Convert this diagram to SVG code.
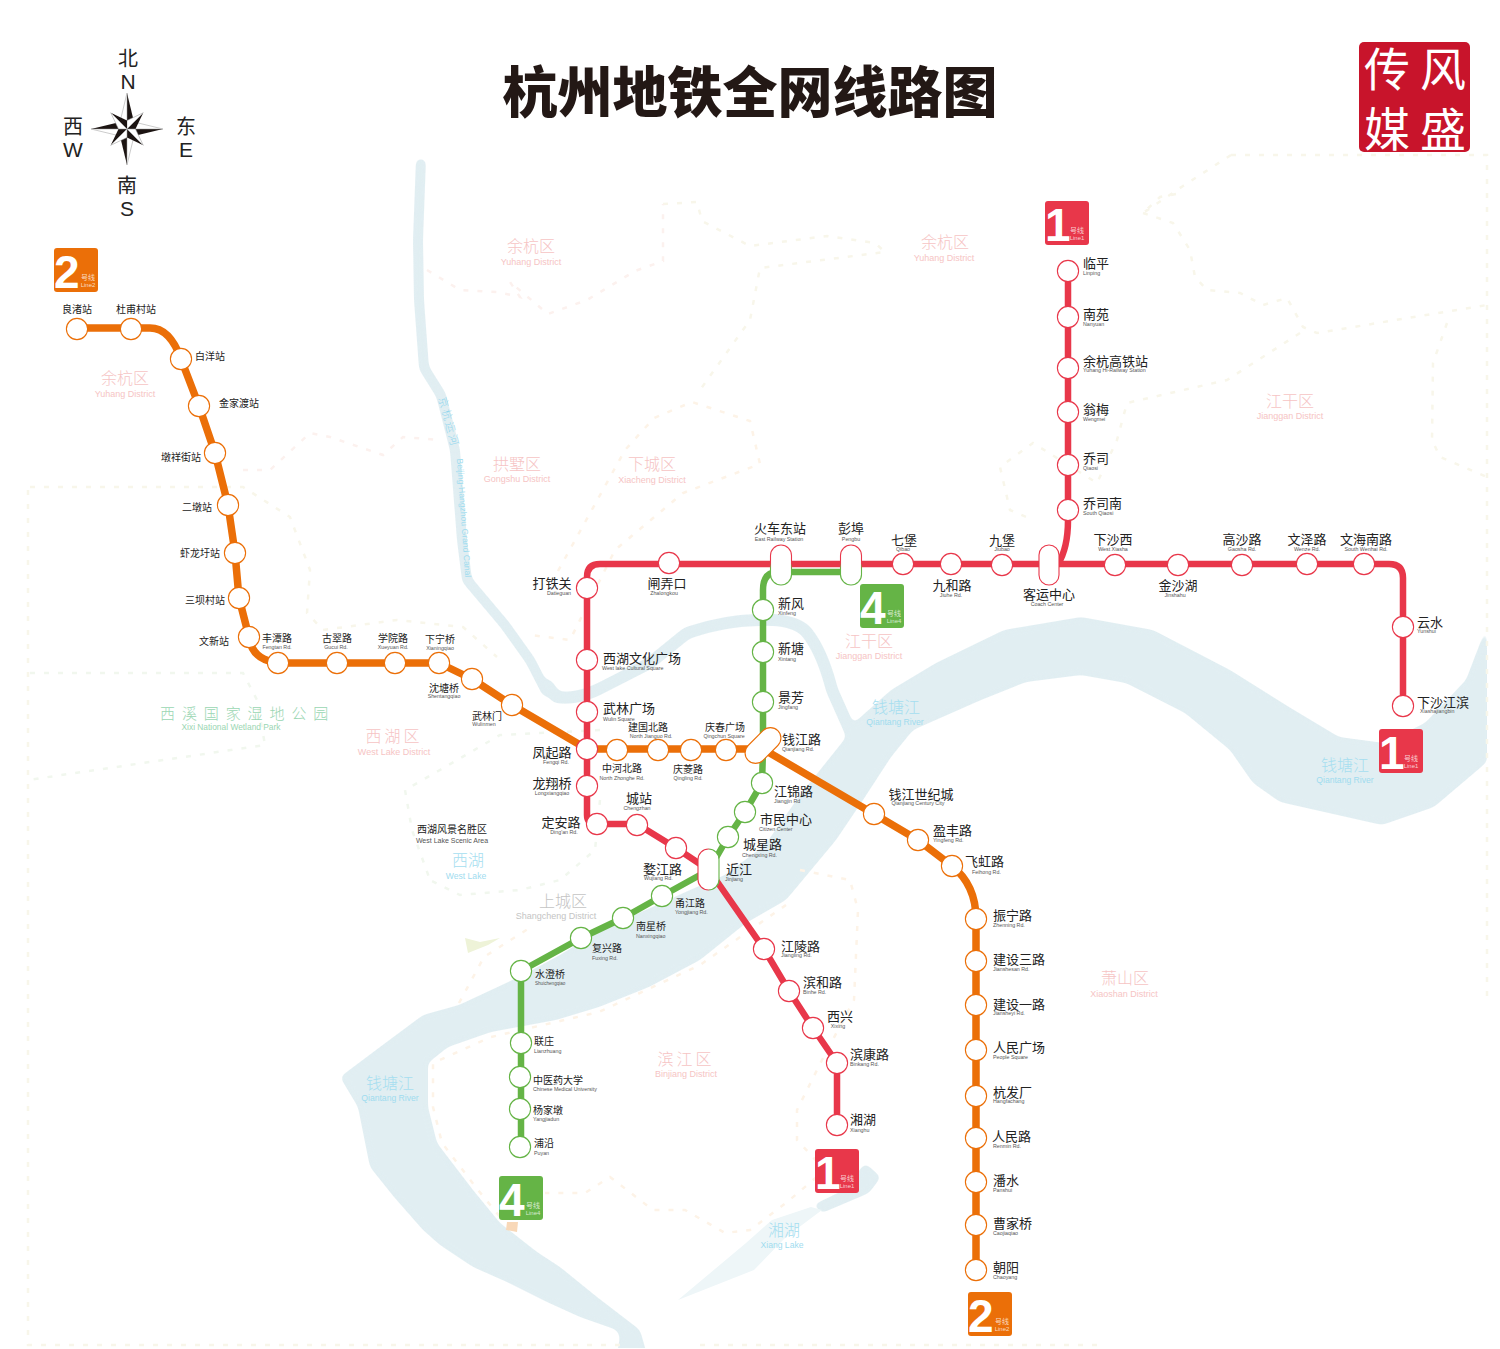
<svg xmlns="http://www.w3.org/2000/svg" width="1500" height="1349" viewBox="0 0 1500 1349">
<style>
text{font-family:"Noto Sans CJK SC","Liberation Sans",sans-serif}
.st circle{fill:#fff;stroke-width:1.1}
.r circle{stroke:#e8374a}.o circle{stroke:#eb6f08}.g circle{stroke:#65b446}
.cn{font-size:13px;fill:#222}
.cs{font-size:10px;fill:#222}
.en{font-family:"Liberation Sans",sans-serif;font-size:5.3px;fill:#555}
.m{text-anchor:middle}
.dn{font-size:16px;font-weight:300;fill:#f6c4c4;text-anchor:middle}
.de{font-family:"Liberation Sans",sans-serif;font-size:9px;fill:#f6c4c4;text-anchor:middle}
.wn{font-size:16px;font-weight:300;fill:#a6def0;text-anchor:middle}
.we{font-family:"Liberation Sans",sans-serif;font-size:8.6px;fill:#9fdcef;text-anchor:middle}
.ln{fill:none;stroke-width:6.5;stroke-linejoin:round}
.b1{fill:none;stroke-width:2.5;stroke-dasharray:5 9}
.by{stroke:#f8f6ea}.bp{stroke:#fcf1ee}.bg{stroke:#f1f7ee}.bo{stroke:#fdf3e7}
.cap{fill:#fff;stroke-width:1.1}
.num{font-family:"Liberation Sans",sans-serif;font-weight:700;font-size:46px;fill:#fff}
.bz{font-size:7px;fill:#fff;fill-opacity:.75;text-anchor:middle}
.bl{font-family:"Liberation Sans",sans-serif;font-size:6px;fill:#fff;fill-opacity:.75;text-anchor:middle}
.cp{font-size:20px;fill:#222;text-anchor:middle}
.cl{font-family:"Liberation Sans",sans-serif;font-size:21px;fill:#222;text-anchor:middle}
.seal{font-size:46px;font-weight:400;fill:#fff;text-anchor:middle}
</style>
<defs>
<linearGradient id="gv" x1="0" y1="0" x2="0" y2="1"><stop offset=".45" stop-color="#e8374a"/><stop offset=".6" stop-color="#65b446"/></linearGradient>
<linearGradient id="gh" x1="0" y1="0" x2="1" y2="0"><stop offset=".45" stop-color="#e8374a"/><stop offset=".6" stop-color="#65b446"/></linearGradient>
<filter id="soft" filterUnits="userSpaceOnUse" x="0" y="0" width="1500" height="1380" color-interpolation-filters="sRGB">
<feGaussianBlur stdDeviation="3"/>
<feComponentTransfer><feFuncA type="linear" slope="8" intercept="-3.5"/></feComponentTransfer>
</filter>
<g id="ptL"><path d="M0,0L0,-36L7,-7Z" fill="#1c1412"/><path d="M0,0L0,-36L-7,-7Z" fill="#fff" stroke="#999" stroke-width=".5"/></g>
<g id="ptS"><path d="M0,0L0,-23L6,-6Z" fill="#1c1412"/><path d="M0,0L0,-23L-6,-6Z" fill="#fff" stroke="#999" stroke-width=".5"/></g>
</defs>
<rect width="1500" height="1349" fill="#fff"/>
<g id="map">
<g id="rivers" filter="url(#soft)">
<path fill="none" stroke="#e1eef2" stroke-width="10" d="M421,159L418,240L419,300L424,368L441,395L455,450L462,540L467,580L505,625L530,660L548,695"/>
<path fill="none" stroke="#e1eef2" stroke-width="12" stroke-linejoin="round" d="M545,682L556,697Q575,700 597,690L650,663L687,633Q725,620 760,620Q790,618 805,630Q822,650 832,690L852,735"/>
<path fill="#e1eef2" d="M854,723L891,690L936,663L1004,630L1081,617L1153,630L1230,670L1289,707L1339,737L1384,743L1425,723L1466,680L1487,625V762L1434,807L1382,825L1280,802L1253,783L1230,750L1185,713L1126,683L1081,675L1026,682L981,700L913,730L891,757L863,800L836,840L786,900L746,923L700,960L649,987L599,1007L556,1020L491,1032L448,1047L428,1063L428,1107L437,1143L473,1190L500,1223L537,1252L560,1267L597,1297L640,1330L650,1365H615L620,1337L617,1330L580,1317L547,1302L507,1282L473,1267L440,1245L423,1230L394,1197L370,1167L358,1107L340,1077L376,1050L423,1015L459,1005L523,975L560,955L600,930L657,905L690,890L725,875L765,845L800,795L848,735Z"/>
<path fill="#e1eef2" d="M813,1205L844,1190L865,1163L881,1177L869,1193L822,1213Z"/>
</g>
<rect x="0" y="1348" width="1500" height="1" fill="#fff"/>
<path fill="#eef6f8" d="M822,1210L786,1237L754,1270L678,1300L746,1243L772,1220L811,1207Z"/>
<path fill="#eef3d8" d="M465,938L480,942L500,938L488,945L468,953Z"/>
<path fill="#f8d8b8" d="M507,1222L518,1222L517,1232L506,1230Z"/>
<g class="b1">
<path class="by b1" d="M1231,155H1487V1000M1231,155L1183,186L1143,213L1160,197L1182,193M1143,213L1173,223L1190,250L1195,277L1207,290L1240,293L1263,305L1287,298L1303,327L1317,333L1487,305M1300,333L1227,380L1127,403L1117,440L1097,483L1033,443L1000,467L1010,510L1033,520M1447,323L1433,363L1432,440L1440,457L1487,477"/>
<path class="by b1" d="M663,204L697,202L702,221L750,246L827,236L875,243L885,252L760,268L750,320L700,390"/>
<path class="bp b1" d="M427,270L460,290L497,292L520,297L510,282L548,314L587,300L635,271L663,261L663,204"/>
<path class="bp b1" d="M243,470L270,470L310,433L330,437L383,455L403,437L440,440"/>
<path class="by b1" d="M30,487H243L290,517L310,570L307,613L323,630L397,620L463,627L497,657M28,490V1345H620M700,1345H1100"/>
<path class="bg b1" d="M30,673H243L257,700L265,745L28,780"/>
<path class="bo b1" d="M558,571L625,450L654,418L692,402L750,421L760,464L683,493L615,550L570,640L530,635"/>
<path class="bo b1" d="M459,1003L484,957L531,927M800,870L850,880L858,910L854,1000L822,1060L797,1110L797,1140L825,1170L786,1203L750,1230L725,1233L685,1210L653,1210L610,1177L585,1193L545,1193"/>
<path class="bo b1" d="M786,905L700,965L599,1012L491,1037L433,1063L433,1107L442,1143L478,1190L505,1223"/>
<path class="bg b1" d="M600,730L500,735L440,770L405,790L412,830L430,880M600,800L595,850L560,880L520,890L460,895L430,880"/>
</g>
</g>
<g id="district-labels">
<text class="dn" x="531" y="252">余杭区</text><text class="de" x="531" y="265">Yuhang District</text>
<text class="dn" x="945" y="248">余杭区</text><text class="de" x="944" y="261">Yuhang District</text>
<text class="dn" x="125" y="384">余杭区</text><text class="de" x="125" y="397">Yuhang District</text>
<text class="dn" x="1290" y="407">江干区</text><text class="de" x="1290" y="419">Jianggan District</text>
<text class="dn" x="869" y="647">江干区</text><text class="de" x="869" y="659">Jianggan District</text>
<text class="dn" x="517" y="470">拱墅区</text><text class="de" x="517" y="482">Gongshu District</text>
<text class="dn" x="652" y="470">下城区</text><text class="de" x="652" y="483">Xiacheng District</text>
<text class="dn" x="394" y="742" letter-spacing="3">西湖区</text><text class="de" x="394" y="755">West Lake District</text>
<text class="dn" x="686" y="1065" letter-spacing="3">滨江区</text><text class="de" x="686" y="1077">Binjiang District</text>
<text class="dn" x="1125" y="984">萧山区</text><text class="de" x="1124" y="997">Xiaoshan District</text>
<text class="dn" x="563" y="907" style="fill:#c4c4c4">上城区</text><text class="de" x="556" y="919" style="fill:#c4c4c4">Shangcheng District</text>
<text x="160" y="719" font-size="15" font-weight="300" fill="#9ad6b2" letter-spacing="6.9">西溪国家湿地公园</text><text class="de" x="231" y="730" style="fill:#9ad6b2;font-size:8.4px">Xixi National Wetland Park</text>
<text class="cs m" x="452" y="833">西湖风景名胜区</text><text class="en m" x="452" y="843" style="font-size:7px">West Lake Scenic Area</text>
<text class="wn" x="468" y="866">西湖</text><text class="we" x="466" y="879">West Lake</text>
<text class="wn" x="896" y="713">钱塘江</text><text class="we" x="895" y="725">Qiantang River</text>
<text class="wn" x="1345" y="771">钱塘江</text><text class="we" x="1345" y="783">Qiantang River</text>
<text class="wn" x="390" y="1089">钱塘江</text><text class="we" x="390" y="1101">Qiantang River</text>
<text class="wn" x="784" y="1236">湘湖</text><text class="we" x="782" y="1248">Xiang Lake</text>
<text x="0" y="0" font-size="11" font-weight="300" fill="#8fd6ee" text-anchor="middle" letter-spacing="2" transform="translate(445,423) rotate(75)">京杭运河</text>
<text x="0" y="0" class="we" style="font-size:8.6px" transform="translate(461,518) rotate(86)">Beijing-Hangzhou Grand Canal</text>
</g>
<g id="connectors">
<path id="line-4" class="ln" stroke="#65b446" d="M851,572H778Q763,572 763,590V750L762,783L745,812L728,837L709,870L662,896L623,918L581,938L521,971V1147"/>
<path id="line-1-branch" class="ln" stroke="#e8374a" d="M1068,271V520Q1068,548 1058,564"/>
<path id="line-1" class="ln" stroke="#e8374a" d="M1403,706V578Q1403,564 1389,564H600Q587,564 587,577V815Q587,824 597,824H637L676,848L709,870L764,949L789,991L813,1028L837,1063V1125"/>
<path id="line-2" class="ln" stroke="#eb6f08" style="stroke-width:7.5" d="M77,328H150Q170,328 181,359L199,406L215,453L228,505L235,553L239,598L249,637Q252,660 278,663H439L472,679L512,705L587,749H763L874,814L918,840L952,866Q976,885 976,919V1270"/>
</g>
<g id="nodes">
<g id="liangzhu" class="st o"><circle cx="77" cy="329" r="10.6"/><text class="cs m" x="77" y="313">良渚站</text></g>
<g id="dufucun" class="st o"><circle cx="131" cy="329" r="10.6"/><text class="cs m" x="136" y="313">杜甫村站</text></g>
<g id="baiyang" class="st o"><circle cx="181" cy="359" r="10.6"/><text class="cs" x="195" y="360">白洋站</text></g>
<g id="jinjiadu" class="st o"><circle cx="199" cy="406" r="10.6"/><text class="cs" x="219" y="407">金家渡站</text></g>
<g id="dunxiangjie" class="st o"><circle cx="215" cy="453" r="10.6"/><text class="cs" x="161" y="461">墩祥街站</text></g>
<g id="erdun" class="st o"><circle cx="228" cy="505" r="10.6"/><text class="cs" x="182" y="511">二墩站</text></g>
<g id="xialongwei" class="st o"><circle cx="235" cy="553" r="10.6"/><text class="cs" x="180" y="557">虾龙圩站</text></g>
<g id="sanbacun" class="st o"><circle cx="239" cy="598" r="10.6"/><text class="cs" x="185" y="604">三坝村站</text></g>
<g id="wenxin" class="st o"><circle cx="249" cy="637" r="10.6"/><text class="cs" x="199" y="645">文新站</text></g>
<g id="fengtan" class="st o"><circle cx="278" cy="663" r="10.6"/><text class="cs m" x="277" y="642">丰潭路</text><text class="en m" x="277" y="649">Fengtan  Rd.</text></g>
<g id="gucui" class="st o"><circle cx="337" cy="663" r="10.6"/><text class="cs m" x="337" y="642">古翠路</text><text class="en m" x="336" y="649">Gucui  Rd.</text></g>
<g id="xueyuan" class="st o"><circle cx="395" cy="663" r="10.6"/><text class="cs m" x="393" y="642">学院路</text><text class="en m" x="393" y="649">Xueyuan  Rd.</text></g>
<g id="xianing" class="st o"><circle cx="439" cy="663" r="10.6"/><text class="cs m" x="440" y="643">下宁桥</text><text class="en m" x="440" y="650">Xianingqiao</text></g>
<g id="shentang" class="st o"><circle cx="472" cy="679" r="10.6"/><text class="cs m" x="444" y="692">沈塘桥</text><text class="en m" x="444" y="698">Shentangqiao</text></g>
<g id="wulinmen" class="st o"><circle cx="512" cy="705" r="10.6"/><text class="cs m" x="487" y="720">武林门</text><text class="en m" x="484" y="726">Wulinmen</text></g>
<g id="zhonghebei" class="st o"><circle cx="617" cy="750" r="10.6"/><text class="cs m" x="622" y="772">中河北路</text><text class="en m" x="622" y="780">North  Zhonghe  Rd.</text></g>
<g id="jianguobei" class="st o"><circle cx="658" cy="750" r="10.6"/><text class="cs m" x="648" y="731">建国北路</text><text class="en m" x="651" y="738">North  Jianguo  Rd.</text></g>
<g id="qingling" class="st o"><circle cx="691" cy="750" r="10.6"/><text class="cs m" x="688" y="773">庆菱路</text><text class="en m" x="688" y="780">Qingling  Rd.</text></g>
<g id="qingchun" class="st o"><circle cx="726" cy="750" r="10.6"/><text class="cs m" x="725" y="731">庆春广场</text><text class="en m" x="724" y="738">Qingchun  Square</text></g>
<g id="qianjiangcc" class="st o"><circle cx="874" cy="814" r="10.6"/><text class="cn m" x="921" y="799">钱江世纪城</text><text class="en m" x="918" y="805">Qianjiang Century City</text></g>
<g id="yingfeng" class="st o"><circle cx="918" cy="840" r="10.6"/><text class="cn" x="933" y="835">盈丰路</text><text class="en" x="933" y="842">Yingfeng  Rd.</text></g>
<g id="feihong" class="st o"><circle cx="952" cy="866" r="10.6"/><text class="cn" x="965" y="866">飞虹路</text><text class="en" x="972" y="874">Feihong  Rd.</text></g>
<g id="zhenning" class="st o"><circle cx="976" cy="919" r="10.6"/><text class="cn" x="993" y="920">振宁路</text><text class="en" x="993" y="927">Zhenning  Rd.</text></g>
<g id="jianshesan" class="st o"><circle cx="976" cy="961" r="10.6"/><text class="cn" x="993" y="964">建设三路</text><text class="en" x="993" y="971">Jianshesan  Rd.</text></g>
<g id="jiansheyi" class="st o"><circle cx="976" cy="1005" r="10.6"/><text class="cn" x="993" y="1009">建设一路</text><text class="en" x="993" y="1015">Jiansheyi  Rd.</text></g>
<g id="renminsq" class="st o"><circle cx="976" cy="1050" r="10.6"/><text class="cn" x="993" y="1052">人民广场</text><text class="en" x="993" y="1059">People Square</text></g>
<g id="hangfa" class="st o"><circle cx="976" cy="1096" r="10.6"/><text class="cn" x="993" y="1097">杭发厂</text><text class="en" x="993" y="1103">Hangfachang</text></g>
<g id="renminlu" class="st o"><circle cx="976" cy="1138" r="10.6"/><text class="cn" x="992" y="1141">人民路</text><text class="en" x="993" y="1148">Renmin  Rd.</text></g>
<g id="panshui" class="st o"><circle cx="976" cy="1182" r="10.6"/><text class="cn" x="993" y="1185">潘水</text><text class="en" x="993" y="1192">Panshui</text></g>
<g id="caojiaqiao" class="st o"><circle cx="976" cy="1225" r="10.6"/><text class="cn" x="993" y="1228">曹家桥</text><text class="en" x="993" y="1235">Caojiaqiao</text></g>
<g id="chaoyang" class="st o"><circle cx="976" cy="1270" r="10.6"/><text class="cn" x="993" y="1272">朝阳</text><text class="en" x="993" y="1279">Chaoyang</text></g>

<g id="linping" class="st r"><circle cx="1068" cy="271" r="10.6"/><text class="cn" x="1083" y="268">临平</text><text class="en" x="1083" y="275">Linping</text></g>
<g id="nanyuan" class="st r"><circle cx="1068" cy="317" r="10.6"/><text class="cn" x="1083" y="319">南苑</text><text class="en" x="1083" y="326">Nanyuan</text></g>
<g id="yuhanghsr" class="st r"><circle cx="1068" cy="368" r="10.6"/><text class="cn" x="1083" y="366">余杭高铁站</text><text class="en" x="1083" y="372">Yuhang Hi-Railway Station</text></g>
<g id="wengmei" class="st r"><circle cx="1068" cy="412" r="10.6"/><text class="cn" x="1083" y="414">翁梅</text><text class="en" x="1083" y="421">Wengmei</text></g>
<g id="qiaosi" class="st r"><circle cx="1068" cy="465" r="10.6"/><text class="cn" x="1083" y="463">乔司</text><text class="en" x="1083" y="470">Qiaosi</text></g>
<g id="qiaosinan" class="st r"><circle cx="1068" cy="510" r="10.6"/><text class="cn" x="1083" y="508">乔司南</text><text class="en" x="1083" y="515">South Qiaosi</text></g>
<g id="xiashaxi" class="st r"><circle cx="1115" cy="565" r="10.6"/><text class="cn m" x="1113" y="544">下沙西</text><text class="en m" x="1113" y="551">West Xiasha</text></g>
<g id="jinshahu" class="st r"><circle cx="1178" cy="565" r="10.6"/><text class="cn m" x="1178" y="590">金沙湖</text><text class="en m" x="1175" y="597">Jinshahu</text></g>
<g id="gaosha" class="st r"><circle cx="1242" cy="565" r="10.6"/><text class="cn m" x="1242" y="544">高沙路</text><text class="en m" x="1242" y="551">Gaosha  Rd.</text></g>
<g id="wenze" class="st r"><circle cx="1307" cy="564" r="10.6"/><text class="cn m" x="1307" y="544">文泽路</text><text class="en m" x="1307" y="551">Wenze  Rd.</text></g>
<g id="wenhainan" class="st r"><circle cx="1364" cy="564" r="10.6"/><text class="cn m" x="1366" y="544">文海南路</text><text class="en m" x="1366" y="551">South  Wenhai  Rd.</text></g>
<g id="yunshui" class="st r"><circle cx="1403" cy="627" r="10.6"/><text class="cn" x="1417" y="627">云水</text><text class="en" x="1417" y="633">Yunshui</text></g>
<g id="xiashajiangbin" class="st r"><circle cx="1403" cy="706" r="10.6"/><text class="cn" x="1417" y="707">下沙江滨</text><text class="en" x="1420" y="713">Xiashajiangbin</text></g>
<g id="jiubao" class="st r"><circle cx="1002" cy="565" r="10.6"/><text class="cn m" x="1002" y="545">九堡</text><text class="en m" x="1002" y="551">Jiubao</text></g>
<g id="jiuhe" class="st r"><circle cx="951" cy="564" r="10.6"/><text class="cn m" x="952" y="590">九和路</text><text class="en m" x="951" y="597">Jiuhe  Rd.</text></g>
<g id="qibao" class="st r"><circle cx="903" cy="564" r="10.6"/><text class="cn m" x="904" y="545">七堡</text><text class="en m" x="903" y="551">Qibao</text></g>
<g id="zhalongkou" class="st r"><circle cx="669" cy="563" r="10.6"/><text class="cn m" x="667" y="588">闸弄口</text><text class="en m" x="664" y="595">Zhalongkou</text></g>
<g id="datieguan" class="st r"><circle cx="587" cy="588" r="10.6"/><text class="cn m" x="552" y="588">打铁关</text><text class="en m" x="559" y="595">Datieguan</text></g>
<g id="xihuwenhua" class="st r"><circle cx="587" cy="660" r="10.6"/><text class="cn" x="603" y="663">西湖文化广场</text><text class="en" x="602" y="670">West lake Cultural Square</text></g>
<g id="wulinsq" class="st r"><circle cx="587" cy="712" r="10.6"/><text class="cn" x="603" y="713">武林广场</text><text class="en" x="603" y="721">Wulin  Square</text></g>
<g id="fengqi" class="st r"><circle cx="587" cy="749" r="10.6"/><text class="cn m" x="552" y="757">凤起路</text><text class="en m" x="556" y="764">Fengqi  Rd.</text></g>
<g id="longxiang" class="st r"><circle cx="587" cy="786" r="10.6"/><text class="cn m" x="552" y="788">龙翔桥</text><text class="en m" x="552" y="795">Longxiangqiao</text></g>
<g id="dingan" class="st r"><circle cx="597" cy="824" r="10.6"/><text class="cn m" x="561" y="827">定安路</text><text class="en m" x="564" y="834">Ding'an  Rd.</text></g>
<g id="chengzhan" class="st r"><circle cx="637" cy="825" r="10.6"/><text class="cn m" x="639" y="803">城站</text><text class="en m" x="637" y="810">Chengzhan</text></g>
<g id="wujiang" class="st r"><circle cx="676" cy="848" r="10.6"/><text class="cn" x="643" y="874">婺江路</text><text class="en" x="644" y="880">Wujiang  Rd.</text></g>
<g id="jiangling" class="st r"><circle cx="764" cy="949" r="10.6"/><text class="cn" x="781" y="951">江陵路</text><text class="en" x="781" y="957">Jiangling  Rd.</text></g>
<g id="binhe" class="st r"><circle cx="789" cy="991" r="10.6"/><text class="cn" x="803" y="987">滨和路</text><text class="en" x="803" y="994">Binhe  Rd.</text></g>
<g id="xixing" class="st r"><circle cx="813" cy="1028" r="10.6"/><text class="cn m" x="840" y="1021">西兴</text><text class="en m" x="838" y="1028">Xixing</text></g>
<g id="binkang" class="st r"><circle cx="837" cy="1063" r="10.6"/><text class="cn" x="850" y="1059">滨康路</text><text class="en" x="850" y="1066">Binkang  Rd.</text></g>
<g id="xianghu" class="st r"><circle cx="837" cy="1125" r="10.6"/><text class="cn" x="850" y="1124">湘湖</text><text class="en" x="850" y="1132">Xianghu</text></g>

<g id="xinfeng" class="st g"><circle cx="763" cy="610" r="10.6"/><text class="cn" x="778" y="608">新风</text><text class="en" x="778" y="615">Xinfeng</text></g>
<g id="xintang" class="st g"><circle cx="763" cy="652" r="10.6"/><text class="cn" x="778" y="653">新塘</text><text class="en" x="778" y="661">Xintang</text></g>
<g id="jingfang" class="st g"><circle cx="763" cy="702" r="10.6"/><text class="cn" x="778" y="702">景芳</text><text class="en" x="778" y="709">Jingfang</text></g>
<g id="jiangjin" class="st g"><circle cx="762" cy="783" r="10.6"/><text class="cn" x="774" y="796">江锦路</text><text class="en" x="774" y="803">Jiangjin  Rd</text></g>
<g id="shiminzhongxin" class="st g"><circle cx="745" cy="812" r="10.6"/><text class="cn" x="760" y="824">市民中心</text><text class="en" x="759" y="831">Citizen Center</text></g>
<g id="chengxing" class="st g"><circle cx="728" cy="837" r="10.6"/><text class="cn" x="743" y="849">城星路</text><text class="en" x="742" y="857">Chengxing  Rd.</text></g>
<g id="yongjiang" class="st g"><circle cx="662" cy="896" r="10.6"/><text class="cs" x="675" y="907">甬江路</text><text class="en" x="675" y="914">Yongjiang  Rd.</text></g>
<g id="nanxing" class="st g"><circle cx="623" cy="918" r="10.6"/><text class="cs" x="636" y="930">南星桥</text><text class="en" x="636" y="938">Nanxingqiao</text></g>
<g id="fuxing" class="st g"><circle cx="581" cy="938" r="10.6"/><text class="cs" x="592" y="952">复兴路</text><text class="en" x="592" y="960">Fuxing  Rd.</text></g>
<g id="shuicheng" class="st g"><circle cx="521" cy="971" r="10.6"/><text class="cs" x="535" y="978">水澄桥</text><text class="en" x="535" y="985" style="font-size:4.6px">Shuichengqiao</text></g>
<g id="lianzhuang" class="st g"><circle cx="521" cy="1043" r="10.6"/><text class="cs" x="534" y="1045">联庄</text><text class="en" x="534" y="1053">Lianzhuang</text></g>
<g id="zhongyiyao" class="st g"><circle cx="520" cy="1077" r="10.6"/><text class="cs" x="533" y="1084">中医药大学</text><text class="en" x="533" y="1091">Chinese Medical University</text></g>
<g id="yangjiadun" class="st g"><circle cx="520" cy="1109" r="10.6"/><text class="cs" x="533" y="1114">杨家墩</text><text class="en" x="533" y="1121">Yangjiadun</text></g>
<g id="puyan" class="st g"><circle cx="520" cy="1147" r="10.6"/><text class="cs" x="534" y="1147">浦沿</text><text class="en" x="534" y="1155">Puyan</text></g>

<g id="huochedong"><rect class="cap" x="770.5" y="545" width="21" height="40" rx="10.5" stroke="url(#gv)"/><text class="cn m" x="780" y="533">火车东站</text><text class="en m" x="779" y="541">East Railway Station</text></g>
<g id="pengbu"><rect class="cap" x="840.5" y="545" width="21" height="40" rx="10.5" stroke="url(#gv)"/><text class="cn m" x="851" y="533">彭埠</text><text class="en m" x="851" y="541">Pengbu</text></g>
<g id="keyun"><rect class="cap" x="1039" y="545" width="20" height="40" rx="10" stroke="#e8374a"/><text class="cn m" x="1049" y="599">客运中心</text><text class="en m" x="1047" y="606">Coach Center</text></g>
<g id="jinjiang"><rect class="cap" x="698" y="849" width="21" height="41" rx="10.5" stroke="url(#gh)"/><text class="cn" x="726" y="874">近江</text><text class="en" x="725" y="881">Jinjiang</text></g>
<g id="qianjianglu"><rect class="cap" x="742" y="735" width="42" height="21" rx="10.5" stroke="#eb6f08" transform="rotate(-45 763 745.5)"/><text class="cn" x="782" y="744">钱江路</text><text class="en" x="782" y="751">Qianjiang  Rd.</text></g>
</g>
<g id="badges">
<g id="badge-1a"><rect x="1045" y="201" width="44" height="44" rx="3" fill="#e8374a"/><text class="num" x="1045" y="241">1</text><text class="bz" x="1077" y="233">号线</text><text class="bl" x="1077" y="240">Line1</text></g>
<g id="badge-2a"><rect x="54" y="248" width="44" height="44" rx="3" fill="#eb6f08"/><text class="num" x="54" y="288">2</text><text class="bz" x="88" y="280">号线</text><text class="bl" x="88" y="287">Line2</text></g>
<g id="badge-4a"><rect x="860" y="584" width="44" height="44" rx="3" fill="#65b446"/><text class="num" x="860" y="624">4</text><text class="bz" x="894" y="616">号线</text><text class="bl" x="894" y="623">Line4</text></g>
<g id="badge-1b"><rect x="1379" y="729" width="44" height="44" rx="3" fill="#e8374a"/><text class="num" x="1379" y="769">1</text><text class="bz" x="1411" y="761">号线</text><text class="bl" x="1411" y="768">Line1</text></g>
<g id="badge-1c"><rect x="815" y="1149" width="44" height="44" rx="3" fill="#e8374a"/><text class="num" x="815" y="1189">1</text><text class="bz" x="847" y="1181">号线</text><text class="bl" x="847" y="1188">Line1</text></g>
<g id="badge-4b"><rect x="499" y="1176" width="44" height="44" rx="3" fill="#65b446"/><text class="num" x="499" y="1216">4</text><text class="bz" x="533" y="1208">号线</text><text class="bl" x="533" y="1215">Line4</text></g>
<g id="badge-2b"><rect x="968" y="1292" width="44" height="44" rx="3" fill="#eb6f08"/><text class="num" x="968" y="1332">2</text><text class="bz" x="1002" y="1324">号线</text><text class="bl" x="1002" y="1331">Line2</text></g>
</g>
<text id="title" x="750" y="112" font-size="55" font-weight="900" fill="#231815" text-anchor="middle">杭州地铁全网线路图</text>
<g id="compass">
<use href="#ptL" transform="translate(127,129)"/><use href="#ptL" transform="translate(127,129) rotate(90)"/><use href="#ptL" transform="translate(127,129) rotate(180)"/><use href="#ptL" transform="translate(127,129) rotate(270)"/>
<use href="#ptS" transform="translate(127,129) rotate(45)"/><use href="#ptS" transform="translate(127,129) rotate(135)"/><use href="#ptS" transform="translate(127,129) rotate(225)"/><use href="#ptS" transform="translate(127,129) rotate(315)"/>
<text class="cp" x="128" y="66">北</text><text class="cl" x="128" y="89">N</text>
<text class="cp" x="127" y="193">南</text><text class="cl" x="127" y="216">S</text>
<text class="cp" x="73" y="134">西</text><text class="cl" x="73" y="157">W</text>
<text class="cp" x="186" y="134">东</text><text class="cl" x="186" y="157">E</text>
</g>
<g id="seal">
<rect x="1359" y="42" width="111" height="110" rx="5" fill="#c8142b"/>
<text class="seal" x="1387" y="86">传</text><text class="seal" x="1443" y="86">风</text>
<text class="seal" x="1387" y="146">媒</text><text class="seal" x="1443" y="146">盛</text>
</g>
</svg>
